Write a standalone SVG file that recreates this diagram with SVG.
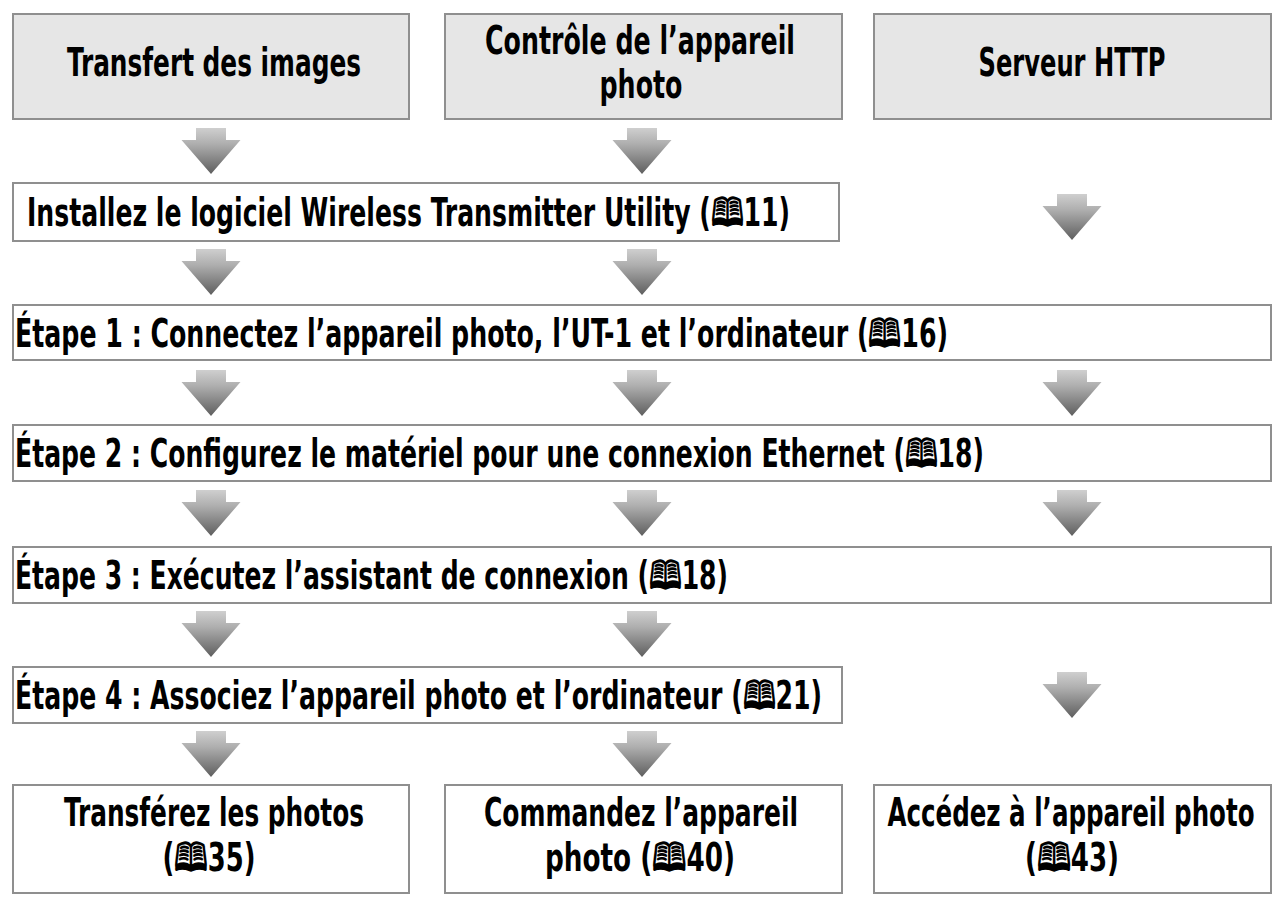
<svg xmlns="http://www.w3.org/2000/svg" xmlns:xlink="http://www.w3.org/1999/xlink" width="1279" height="904" viewBox="0 0 1279 904">
<style>
.box{stroke:#8f8f8f;stroke-width:2;fill:#ffffff}
.hdr{fill:#e6e6e6}
.t{font-family:"Liberation Sans Narrow","DejaVu Sans Condensed","Liberation Sans","DejaVu Sans",sans-serif;font-stretch:condensed;font-weight:bold;font-size:26.5px;fill:#000}
.c{text-anchor:middle}
</style>
<defs>
<linearGradient id="ag" x1="0" y1="0" x2="0" y2="1">
<stop offset="0" stop-color="#cfcfcf"/>
<stop offset="0.35" stop-color="#aeaeae"/>
<stop offset="1" stop-color="#5e5e5e"/>
</linearGradient>
<path id="arr" d="M-15,0 H15 V12 H29.5 L0,46 L-29.5,12 H-15 Z" fill="url(#ag)"/>
</defs>
<rect width="1279" height="904" fill="#ffffff"/>

<g id="connectors">
<use xlink:href="#arr" x="211" y="128"/>
<use xlink:href="#arr" x="642" y="128"/>
<use xlink:href="#arr" x="1072" y="194"/>
<use xlink:href="#arr" x="211" y="249"/>
<use xlink:href="#arr" x="642" y="249"/>
<use xlink:href="#arr" x="211" y="370"/>
<use xlink:href="#arr" x="642" y="370"/>
<use xlink:href="#arr" x="1072" y="370"/>
<use xlink:href="#arr" x="211" y="490"/>
<use xlink:href="#arr" x="642" y="490"/>
<use xlink:href="#arr" x="1072" y="490"/>
<use xlink:href="#arr" x="211" y="611"/>
<use xlink:href="#arr" x="642" y="611"/>
<use xlink:href="#arr" x="1072" y="672"/>
<use xlink:href="#arr" x="211" y="731"/>
<use xlink:href="#arr" x="642" y="731"/>
</g>

<g id="hdr1">
<rect class="box hdr" x="13" y="14" width="396" height="105"/>
<text class="t c" transform="translate(214 76) scale(1 1.47)" textLength="294" lengthAdjust="spacingAndGlyphs">Transfert des images</text>
</g>
<g id="hdr2">
<rect class="box hdr" x="445" y="14" width="397" height="105"/>
<text class="t c" transform="translate(640 54) scale(1 1.47)" textLength="310" lengthAdjust="spacingAndGlyphs">Contrôle de l’appareil</text>
<text class="t c" transform="translate(641 98) scale(1 1.47)" textLength="83" lengthAdjust="spacingAndGlyphs">photo</text>
</g>
<g id="hdr3">
<rect class="box hdr" x="874" y="14" width="397" height="105"/>
<text class="t c" transform="translate(1072 76) scale(1 1.47)" textLength="187" lengthAdjust="spacingAndGlyphs">Serveur HTTP</text>
</g>

<g id="install">
<rect class="box" x="13" y="183" width="826" height="58"/>
<text class="t" transform="translate(27 226) scale(1 1.47)" textLength="763" lengthAdjust="spacingAndGlyphs">Installez le logiciel Wireless Transmitter Utility (🕮11)</text>
</g>
<g id="etape1">
<rect class="box" x="13" y="305" width="1258" height="55"/>
<text class="t" transform="translate(15 347) scale(1 1.47)" textLength="933" lengthAdjust="spacingAndGlyphs">Étape 1 : Connectez l’appareil photo, l’UT-1 et l’ordinateur (🕮16)</text>
</g>
<g id="etape2">
<rect class="box" x="13" y="425" width="1258" height="56"/>
<text class="t" transform="translate(15 467) scale(1 1.47)" textLength="969" lengthAdjust="spacingAndGlyphs">Étape 2 : Configurez le matériel pour une connexion Ethernet (🕮18)</text>
</g>
<g id="etape3">
<rect class="box" x="13" y="547" width="1258" height="56"/>
<text class="t" transform="translate(15 589) scale(1 1.47)" textLength="713" lengthAdjust="spacingAndGlyphs">Étape 3 : Exécutez l’assistant de connexion (🕮18)</text>
</g>
<g id="etape4">
<rect class="box" x="13" y="667" width="829" height="56"/>
<text class="t" transform="translate(15 709) scale(1 1.47)" textLength="807" lengthAdjust="spacingAndGlyphs">Étape 4 : Associez l’appareil photo et l’ordinateur (🕮21)</text>
</g>

<g id="out1">
<rect class="box" x="13" y="785" width="396" height="108"/>
<text class="t c" transform="translate(214 826) scale(1 1.47)" textLength="300" lengthAdjust="spacingAndGlyphs">Transférez les photos</text>
<text class="t c" transform="translate(209 871) scale(1 1.47)" textLength="93" lengthAdjust="spacingAndGlyphs">(🕮35)</text>
</g>
<g id="out2">
<rect class="box" x="445" y="785" width="397" height="108"/>
<text class="t c" transform="translate(641 826) scale(1 1.47)" textLength="314" lengthAdjust="spacingAndGlyphs">Commandez l’appareil</text>
<text class="t c" transform="translate(640 871) scale(1 1.47)" textLength="190" lengthAdjust="spacingAndGlyphs">photo (🕮40)</text>
</g>
<g id="out3">
<rect class="box" x="874" y="785" width="397" height="108"/>
<text class="t c" transform="translate(1071 826) scale(1 1.47)" textLength="367" lengthAdjust="spacingAndGlyphs">Accédez à l’appareil photo</text>
<text class="t c" transform="translate(1072 871) scale(1 1.47)" textLength="94" lengthAdjust="spacingAndGlyphs">(🕮43)</text>
</g>
</svg>
